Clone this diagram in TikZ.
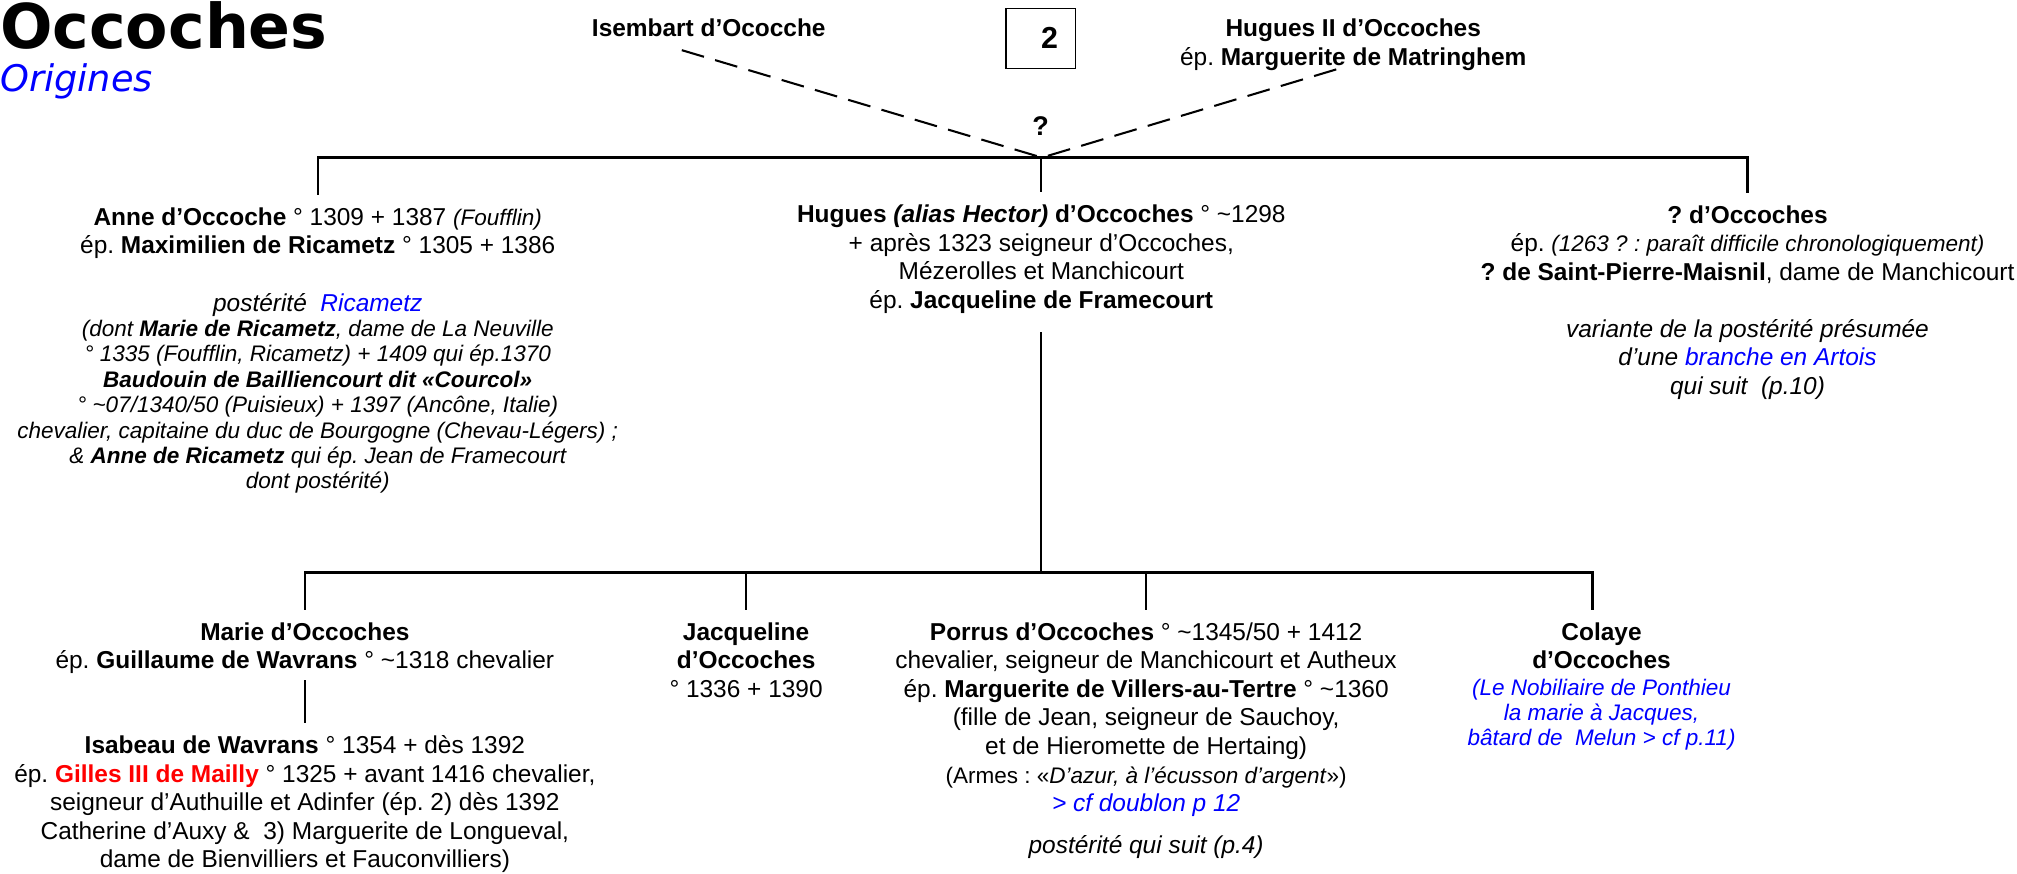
\documentclass[tikz,border=0pt]{standalone}
\usepackage{fontspec}
\setmainfont{Liberation Sans}
\newfontfamily\dejavu{DejaVu Sans}
\usepackage{xcolor}
\definecolor{lnk}{RGB}{0,0,255}
\definecolor{rd}{RGB}{255,0,0}
\newcommand{\nrm}{\fontsize{19}{22.2}\selectfont}
\newcommand{\sml}{\fontsize{17.5}{19.7}\selectfont}
\newcommand{\blk}[1]{\begin{tabular}[t]{@{}c@{}}#1\end{tabular}}
\newcommand{\tld}{\textasciitilde}
\frenchspacing
\begin{document}
\frenchspacing
\begin{tikzpicture}[x=1pt,y=-1pt,
  every node/.style={inner sep=0pt},
  person/.style={anchor=base, inner xsep=0pt, inner ysep=8pt, font=\nrm},
  note/.style={anchor=base, inner sep=0pt, font=\sml\itshape},
  link/.style={line width=1.8pt},
  dlink/.style={line width=1.6pt, dash pattern=on 18pt off 9pt},
]
\useasboundingbox (0,0) rectangle (1568,678.7);
% title
\node[anchor=base west, font=\fontsize{48}{50}\selectfont\dejavu\bfseries] (title) at (0,38) {Occoches};
\node[anchor=base west, text=lnk, font=\fontsize{28.5}{30}\selectfont\dejavu\itshape] (sub) at (0,71.3) {Origines};
% top generation
\node[anchor=base, font=\nrm\bfseries] (isembart) at (551,28) {Isembart d’Ococche};
\node[anchor=base, font=\nrm] (hugues2) at (1052,28.5) {\blk{\textbf{Hugues II d’Occoches}\\ ép. \textbf{Marguerite de Matringhem}}};
\node[draw, line width=1pt, minimum width=54pt, minimum height=46.5pt, font=\fontsize{23.6}{26}\selectfont\bfseries] (page) at (809,29.75) {\hspace*{14pt}2};
\node[anchor=base, font=\fontsize{21}{24}\selectfont\bfseries] (q) at (809,105) {?};
\coordinate (conv) at (810,122.5);
\coordinate (isL) at (530,39);
\coordinate (huR) at (1042,53);
\draw[dlink] (isL) -- (conv) -- (huR);
% second generation
\node[person] (anne) at (247,175) {\blk{\textbf{Anne d’Occoche} ° 1309 + 1387 {\sml\itshape (Foufflin)}\\
ép. \textbf{Maximilien de Ricametz} ° 1305 + 1386}};
\node[note] (ricam) at (247,242) {\blk{{\nrm postérité~ \textcolor{lnk}{Ricametz}}\\
(dont \textbf{Marie de Ricametz}, dame de La Neuville\\
° 1335 (Foufflin, Ricametz) + 1409 qui ép.1370\\
\textbf{Baudouin de Bailliencourt dit «Courcol»}\\
° \tld07/1340/50 (Puisieux) + 1397 (Ancône, Italie)\\
chevalier, capitaine du duc de Bourgogne (Chevau-Légers) ;\\
\& \textbf{Anne de Ricametz} qui ép. Jean de Framecourt\\
dont postérité)}};
\node[person] (hugues) at (809.5,173) {\blk{\textbf{Hugues \textit{(alias Hector)} d’Occoches} ° \tld1298\\
+ après 1323 seigneur d’Occoches,\\
Mézerolles et Manchicourt\\
ép. \textbf{Jacqueline de Framecourt}}};
\node[person] (qoc) at (1358.5,173.5) {\blk{\textbf{? d’Occoches}\\
ép. {\sml\itshape (1263 ? : paraît difficile chronologiquement)}\\
\textbf{? de Saint-Pierre-Maisnil}, dame de Manchicourt}};
\node[anchor=base, font=\nrm\itshape] (qocnote) at (1358.5,262) {\blk{variante de la postérité présumée\\
d’une \textcolor{lnk}{branche en Artois}\\
qui suit~ (p.10)}};
\draw[link] (anne.north) -- (anne.north |- conv) -- (qoc.north |- conv) -- (qoc.north);
\draw[link] (hugues.north |- conv) -- (hugues.north);
% third generation
\coordinate (bar2) at (0,445);
\coordinate (colc) at (1238,0);
\node[person] (marie) at (237,497.7) {\blk{\textbf{Marie d’Occoches}\\
ép. \textbf{Guillaume de Wavrans} ° \tld1318 chevalier}};
\node[person] (isabeau) at (237,585.8) {\blk{\textbf{Isabeau de Wavrans} ° 1354 + dès 1392\\
ép. \textcolor{rd}{\textbf{Gilles III de Mailly}} ° 1325 + avant 1416 chevalier,\\
seigneur d’Authuille et Adinfer (ép. 2) dès 1392\\
Catherine d’Auxy \&~ 3) Marguerite de Longueval,\\
dame de Bienvilliers et Fauconvilliers)}};
\node[person] (jac) at (580,497.7) {\blk{\textbf{Jacqueline}\\ \textbf{d’Occoches}\\ ° 1336 + 1390}};
\node[person] (porrus) at (891,497.7) {\blk{\textbf{Porrus d’Occoches} ° \tld1345/50 + 1412\\
chevalier, seigneur de Manchicourt et Autheux\\
ép. \textbf{Marguerite de Villers-au-Tertre} ° \tld1360\\
(fille de Jean, seigneur de Sauchoy,\\
et de Hieromette de Hertaing)\\
{\sml (Armes : «\textit{D’azur, à l’écusson d’argent}»)}\\
\textcolor{lnk}{\textit{> cf doublon p 12}}\\[10.5pt]
\textit{postérité qui suit (p.4)}}};
\node[person] (colaye) at (1245,497.7) {\blk{\textbf{Colaye}\\ \textbf{d’Occoches}}};
\node[note, text=lnk] (colnote) at (1245,540.5) {\blk{(Le Nobiliaire de Ponthieu\\ la marie à Jacques,\\ bâtard de~ Melun > cf p.11)}};
\draw[link] ([yshift=-4pt]hugues.south) -- (hugues.south |- bar2);
\draw[link] (marie.north) -- (marie.north |- bar2) -- (colc |- bar2) -- (colc |- colaye.north);
\draw[link] (jac.north |- bar2) -- (jac.north);
\draw[link] (porrus.north |- bar2) -- (porrus.north);
\draw[link] ([yshift=6pt]marie.south) -- (isabeau.north);
\end{tikzpicture}
\end{document}
